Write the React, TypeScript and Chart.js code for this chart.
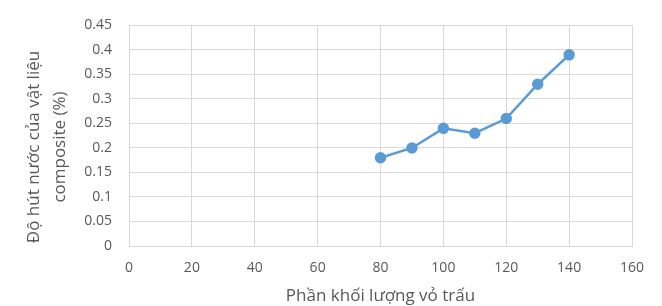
import React, { useEffect, useRef } from "react";
import { Chart, registerables } from "chart.js";

Chart.register(...registerables);

const xValues = [80, 90, 100, 110, 120, 130, 140];
const yValues = [0.18, 0.2, 0.24, 0.23, 0.26, 0.33, 0.39];
const xTickLabels = ["0", "20", "40", "60", "80", "100", "120", "140", "160"];
const yTickLabels = ["0", "0.05", "0.1", "0.15", "0.2", "0.25", "0.3", "0.35", "0.4", "0.45"];
const xTitle = "Phần khối lượng vỏ trấu";
const yTitleLines = ["Độ hút nước của vật liệu", "composite (%)"];

const FONT = "'Open Sans', 'Noto Sans', sans-serif";
const TEXT = "#595959";
const GRID = "#d9d9d9";
const LINE = "#5b9bd5";

const yTitlePlugin = {
  id: "yTitlePlugin",
  afterDraw(chart: any) {
    const ctx = chart.ctx;
    ctx.save();
    ctx.fillStyle = TEXT;
    ctx.font = `17px ${FONT}`;
    ctx.textAlign = "center";
    ctx.textBaseline = "middle";
    const xs = [34, 60];
    yTitleLines.forEach((line, i) => {
      ctx.save();
      ctx.translate(xs[i], 147);
      ctx.rotate(-Math.PI / 2);
      ctx.fillText(line, 0, 0);
      ctx.restore();
    });
    ctx.restore();
  },
};

export default function App() {
  const ref = useRef<HTMLCanvasElement | null>(null);
  useEffect(() => {
    if (!ref.current) return;
    const chart = new Chart(ref.current, {
      type: "line",
      data: {
        datasets: [
          {
            data: xValues.map((x, i) => ({ x, y: yValues[i] })),
            borderColor: LINE,
            backgroundColor: LINE,
            borderWidth: 2.5,
            pointRadius: 4.5,
            pointBackgroundColor: LINE,
            pointBorderColor: LINE,
            tension: 0,
          },
        ],
      },
      plugins: [yTitlePlugin],
      options: {
        animation: false,
        responsive: false,
        maintainAspectRatio: false,
        layout: { padding: { left: 0, top: 20, right: 30, bottom: 0 } },
        plugins: { legend: { display: false }, tooltip: { enabled: false } },
        scales: {
          x: {
            type: "linear",
            min: 0,
            max: 160,
            afterFit: (s: any) => {
              s.height = 60;
            },
            ticks: {
              stepSize: 20,
              padding: 14,
              color: TEXT,
              font: { family: FONT, size: 14 },
              callback: (v: any) => {
                const idx = Math.round(Number(v) / 20);
                return xTickLabels[idx] ?? String(v);
              },
            },
            grid: { color: GRID, drawTicks: false, lineWidth: 1 },
            border: { color: GRID },
            title: {
              display: true,
              text: xTitle,
              color: TEXT,
              font: { family: FONT, size: 17 },
              padding: { top: 0, bottom: 0 },
            },
          },
          y: {
            type: "linear",
            min: 0,
            max: 0.45,
            afterFit: (s: any) => {
              s.width = 129;
            },
            ticks: {
              stepSize: 0.05,
              padding: 17,
              color: TEXT,
              font: { family: FONT, size: 14 },
              callback: (v: any) => {
                const idx = Math.round(Number(v) / 0.05);
                return yTickLabels[idx] ?? String(v);
              },
            },
            grid: { color: GRID, drawTicks: false, lineWidth: 1 },
            border: { color: GRID },
          },
        },
      },
    });
    return () => chart.destroy();
  }, []);
  return (
    <div style={{ position: "fixed", left: 0, top: 0, width: 662, height: 306, background: "#fff" }}>
      <canvas ref={ref} width={662} height={306} style={{ display: "block" }} />
    </div>
  );
}
